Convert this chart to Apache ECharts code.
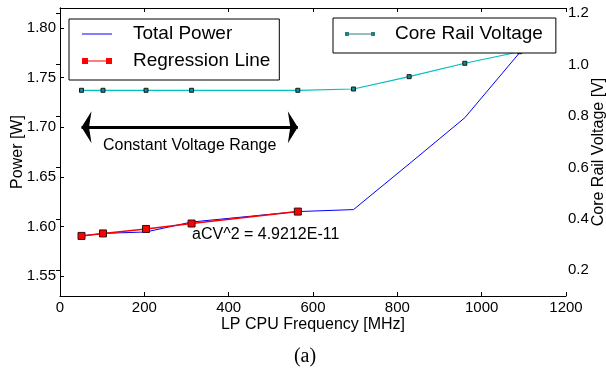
<!DOCTYPE html>
<html>
<head>
<meta charset="utf-8">
<script src="https://cdn.jsdelivr.net/npm/echarts@6/dist/echarts.min.js"></script>
<style>
  html, body { margin: 0; padding: 0; background: #fff; }
  #chart { width: 606px; height: 375px; }
</style>
</head>
<body>
<div id="chart"></div>
<script>
// data
var totalFreq = [51, 102, 204, 312, 564, 696, 828, 960, 1090];
var totalPower = [1.5905, 1.593, 1.5945, 1.6045, 1.615, 1.617, 1.663, 1.7095, 1.775];

var regFreq = [51, 102, 204, 312, 564];
var regPower = [1.5905, 1.593, 1.5975, 1.603, 1.615];

var voltFreq = [51, 102, 204, 312, 564, 696, 828, 960, 1090];
var voltValue = [0.9, 0.9, 0.9, 0.9, 0.9, 0.905, 0.953, 1.005, 1.05];

var xTicks = [0, 200, 400, 600, 800, 1000, 1200];
var powerTicks = [1.55, 1.60, 1.65, 1.70, 1.75, 1.80];
var voltTicks = [0.2, 0.4, 0.6, 0.8, 1.0, 1.2];

var arrowRange = [51, 564];
var arrowLevel = 1.70;

function pairs(xs, ys) {
    return xs.map(function (x, i) { return [x, ys[i]]; });
}

var font = '"Liberation Sans", Arial, sans-serif';
var black = '#000';

var option = {
    animation: false,
    backgroundColor: '#fff',
    grid: { left: 60, right: 40, top: 8, bottom: 79, containLabel: false, outerBoundsMode: 'none' },
    textStyle: { fontFamily: font },
    xAxis: [{
        type: 'value',
        min: 0,
        max: 1200,
        position: 'bottom',
        axisLine: { show: true, lineStyle: { color: black, width: 1 } },
        axisTick: { show: true, inside: true, length: 4, customValues: xTicks, lineStyle: { color: black } },
        axisLabel: {
            color: black, fontSize: 15, fontFamily: font, margin: 4,
            customValues: xTicks,
            formatter: function (v) { return String(v); }
        },
        splitLine: { show: false },
        name: 'LP CPU Frequency [MHz]',
        nameLocation: 'middle',
        nameGap: 21,
        nameMoveOverlap: false,
        nameTextStyle: { color: black, fontSize: 16, fontFamily: font }
    }, {
        type: 'value',
        min: 0,
        max: 1200,
        position: 'top',
        axisLine: { show: true, lineStyle: { color: black, width: 1 } },
        axisTick: { show: true, inside: true, length: 4, customValues: xTicks, lineStyle: { color: black } },
        axisLabel: { show: false },
        splitLine: { show: false }
    }],
    yAxis: [{
        type: 'value',
        min: 1.53,
        max: 1.82,
        position: 'left',
        axisLine: { show: true, lineStyle: { color: black, width: 1 } },
        axisTick: { show: true, inside: true, length: 4, customValues: powerTicks, lineStyle: { color: black } },
        axisLabel: {
            color: black, fontSize: 15, fontFamily: font, margin: 4,
            customValues: powerTicks,
            formatter: function (v) { return v.toFixed(2); }
        },
        splitLine: { show: false },
        name: 'Power [W]',
        nameLocation: 'middle',
        nameRotate: 90,
        nameGap: 34,
        nameMoveOverlap: false,
        nameTextStyle: { color: black, fontSize: 16, fontFamily: font }
    }, {
        type: 'value',
        min: 0.1,
        max: 1.22,
        position: 'right',
        axisLine: { show: true, lineStyle: { color: black, width: 1 } },
        axisTick: { show: true, inside: true, length: 4, customValues: voltTicks, lineStyle: { color: black } },
        axisLabel: {
            color: black, fontSize: 15, fontFamily: font, margin: 2,
            customValues: voltTicks,
            formatter: function (v) { return v.toFixed(1); }
        },
        splitLine: { show: false },
        name: 'Core Rail Voltage [V]',
        nameLocation: 'middle',
        nameRotate: 90,
        nameGap: 25,
        nameMoveOverlap: false,
        nameTextStyle: { color: black, fontSize: 16, fontFamily: font }
    }],
    legend: [{
        orient: 'vertical',
        left: 69,
        top: 19,
        padding: [5, 9, 9, 13],
        itemGap: 7,
        itemWidth: 30,
        itemHeight: 6,
        backgroundColor: '#fff',
        borderColor: black,
        borderWidth: 1,
        borderRadius: 0,
        textStyle: { color: black, fontSize: 19, fontFamily: font, lineHeight: 20, padding: [0, 0, 0, 16] },
        data: [
            { name: 'Total Power', icon: 'path://M0,0h30v1h-30z' },
            { name: 'Regression Line', icon: 'path://M0,0h6v6h-6zM24,0h6v6h-6zM6,2.4h18v1.2h-18z', itemStyle: { borderWidth: 0 } }
        ]
    }, {
        orient: 'vertical',
        left: 333,
        top: 18,
        padding: [6, 13, 9, 12],
        itemWidth: 30,
        itemHeight: 6,
        backgroundColor: '#fff',
        borderColor: black,
        borderWidth: 1,
        borderRadius: 0,
        textStyle: { color: black, fontSize: 19, fontFamily: font, lineHeight: 20, padding: [0, 0, 0, 15] },
        data: [
            { name: 'Core Rail Voltage', icon: 'path://M0,0h4v4h-4zM26,0h4v4h-4zM4,1.4h22v1.2h-22z', itemStyle: { borderWidth: 0 } }
        ]
    }],
    series: [{
        name: 'Total Power',
        type: 'line',
        xAxisIndex: 0,
        yAxisIndex: 0,
        data: pairs(totalFreq, totalPower),
        symbol: 'none',
        itemStyle: { color: '#0000ff' },
        lineStyle: { color: '#0000ff', width: 1 },
        markLine: {
            silent: true,
            symbol: ['arrow', 'arrow'],
            symbolSize: [24, 10],
            lineStyle: { color: black, width: 3, type: 'solid' },
            label: {
                show: true,
                position: 'insideMiddleBottom',
                distance: 10,
                formatter: 'Constant Voltage Range',
                color: black,
                fontSize: 16,
                fontFamily: font
            },
            data: [[{ coord: [arrowRange[0], arrowLevel] }, { coord: [arrowRange[1], arrowLevel] }]]
        }
    }, {
        name: 'Regression Line',
        type: 'line',
        xAxisIndex: 0,
        yAxisIndex: 0,
        data: pairs(regFreq, regPower),
        symbol: 'rect',
        symbolSize: 7,
        itemStyle: { color: '#ff0000', borderColor: '#331111', borderWidth: 1 },
        lineStyle: { color: '#ff0000', width: 1.5 }
    }, {
        name: 'Core Rail Voltage',
        type: 'line',
        xAxisIndex: 0,
        yAxisIndex: 1,
        data: pairs(voltFreq, voltValue),
        symbol: 'rect',
        symbolSize: 4,
        itemStyle: { color: '#2a8080', borderColor: '#0a2020', borderWidth: 1 },
        lineStyle: { color: '#00bfbf', width: 1.2 }
    }],
    graphic: [{
        type: 'text',
        left: 192,
        top: 227,
        style: { text: 'aCV^2 = 4.9212E-11', font: '16px ' + font, fill: black }
    }, {
        type: 'text',
        x: 305,
        y: 357,
        style: {
            text: '(a)', font: '20px "Liberation Serif", "Times New Roman", serif', fill: black,
            textAlign: 'center', textVerticalAlign: 'middle'
        }
    }]
};

var myChart = echarts.init(document.getElementById('chart'));
myChart.setOption(option);
</script>
</body>
</html>
